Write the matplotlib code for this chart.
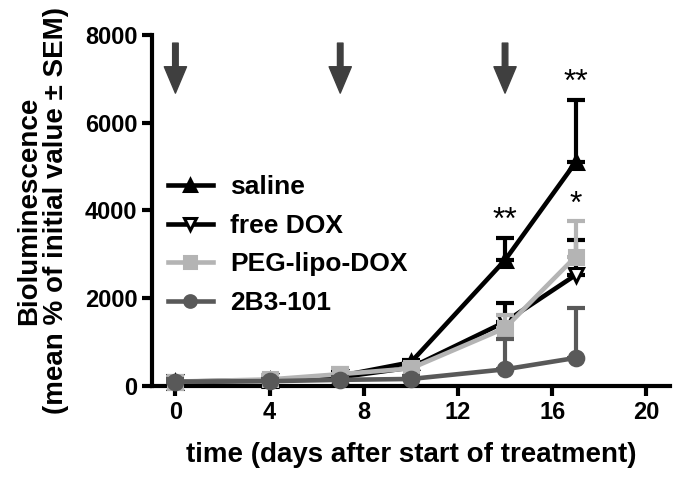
import matplotlib
matplotlib.use("Agg")
import matplotlib.pyplot as plt

plt.rcParams['font.family'] = ['Liberation Sans', 'DejaVu Sans']
plt.rcParams['font.weight'] = 'bold'

days = [0, 4, 7, 10, 14, 17]
labels = ["saline", "free DOX", "PEG-lipo-DOX", "2B3-101"]
saline = [100, 130, 230, 540, 2870, 5100]
saline_err = [60, 60, 80, 60, 500, 1420]
free_dox = [100, 120, 200, 420, 1460, 2530]
free_dox_err = [60, 60, 80, 80, 430, 800]
peg = [100, 150, 270, 400, 1320, 2950]
peg_err = [100, 100, 130, 100, 300, 800]
b3 = [100, 110, 140, 160, 380, 640]
b3_err = [60, 50, 60, 60, 690, 1140]
arrow_days = [0, 7, 14]
xticks = [0, 4, 8, 12, 16, 20]
yticks = [0, 2000, 4000, 6000, 8000]
stars = [(14, 3370, "**"), (17, 6515, "**"), (17, 3735, "*")]

fig = plt.figure(figsize=(6.78, 4.84), dpi=100)
ax = fig.add_axes([0.224, 0.2025, 0.764, 0.7252])

series = [
    (saline, saline_err, "black", "^", "black", 1),
    (free_dox, free_dox_err, "black", "v", "white", 2),
    (peg, peg_err, "#b4b4b4", "s", "#b4b4b4", 3),
    (b3, b3_err, "#595959", "o", "#595959", 4),
]
handles = []
for (vals, errs, col, mk, mfc, z), lab in zip(series, labels):
    ax.errorbar(days, vals, yerr=[[0] * len(errs), errs], fmt='none', ecolor=col,
                elinewidth=3, capsize=6.5, capthick=3, zorder=z, clip_on=False)
    h, = ax.plot(days, vals, color=col, lw=3.3, marker=mk, markersize=10.5,
                 markerfacecolor=mfc, markeredgecolor=col, markeredgewidth=2.2,
                 zorder=z + 0.5, clip_on=False, label=lab)
    handles.append(h)

for d in arrow_days:
    ax.annotate('', xy=(d, 6675), xytext=(d, 7815),
                arrowprops=dict(width=4, headwidth=16, headlength=19,
                                color="#3f3f3f", shrink=0))

for x, y, s in stars:
    ax.text(x, y + 40, s, ha='center', va='bottom', fontsize=23,
            fontweight='normal', color='black')

ax.set_xlim(-1, 21)
ax.set_ylim(0, 8000)
ax.set_xticks(xticks)
ax.set_yticks(yticks)
ax.tick_params(axis='both', width=3, length=7.5, labelsize=17, direction='out', pad=3)
for s in ['top', 'right']:
    ax.spines[s].set_visible(False)
for s in ['left', 'bottom']:
    ax.spines[s].set_linewidth(3)

ax.set_xlabel("time (days after start of treatment)", fontsize=20,
              fontweight='bold', labelpad=13)
ax.set_ylabel("Bioluminescence\n(mean % of initial value \u00b1 SEM)",
              fontsize=20, fontweight='bold', labelpad=11, linespacing=1.05)

leg = ax.legend(handles=handles, loc='upper left',
                bbox_to_anchor=(0.031, 0.60), frameon=False, fontsize=19,
                handlelength=1.7, handletextpad=0.65, labelspacing=0.55,
                borderaxespad=0, borderpad=0, markerscale=0.8)

fig.savefig("out.png", dpi=100)
